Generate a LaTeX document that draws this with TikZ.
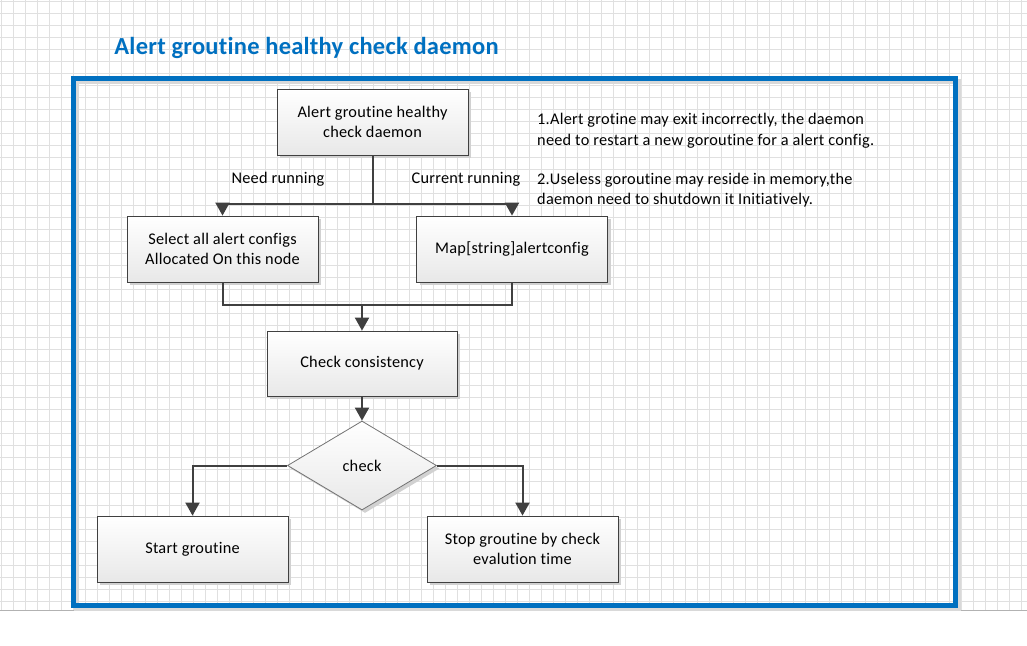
\documentclass[tikz,border=0pt]{standalone}
\usepackage{fontspec}
\setmainfont{Carlito}[LetterSpace=1.5,Ligatures=NoCommon]
\newfontfamily\titlefont{Carlito}[LetterSpace=1,Ligatures=NoCommon]
\usetikzlibrary{arrows.meta,shapes.geometric,shadows}
\definecolor{frameblue}{HTML}{0070C0}
\definecolor{linegray}{HTML}{404040}
\definecolor{gridgray}{HTML}{E0E0E0}
\begin{document}
\begin{tikzpicture}[x=1pt,y=-1pt,
  txt/.style={font=\fontsize{16.3}{20}\selectfont, text=black},
  box/.style={txt, draw=linegray, line width=0.8pt, top color=white, bottom color=black!9,
    minimum width=191pt, minimum height=66pt, align=center, inner sep=2pt,
    drop shadow={shadow xshift=3pt,shadow yshift=-3pt,fill=black!18,opacity=1}},
  decision/.style={txt, shape=diamond, draw=black!55, line width=0.8pt, top color=white, bottom color=black!9,
    minimum width=149pt, minimum height=89pt, inner sep=0pt,
    drop shadow={shadow xshift=3pt,shadow yshift=-3pt,fill=black!18,opacity=1}},
  conn/.style={draw=linegray, line width=2pt},
  arr/.style={conn, -{Triangle[length=13pt,width=14pt]}},
  lbl/.style={txt, inner sep=0pt}
]
\fill[white] (0,0) rectangle (1027,645);
\useasboundingbox (0,0) rectangle (1027,645);
% grid
\foreach \i in {0,...,85} \draw[gridgray, line width=1pt] ({1+12*\i},0) -- ({1+12*\i},610);
\foreach \j in {0,...,50} \draw[gridgray, line width=1pt] (0,{1+12*\j}) -- (1027,{1+12*\j});
\draw[black!30, line width=1pt] (0,610) -- (1027,610);
% title
\node[font=\titlefont\bfseries\fontsize{24.5}{28}\selectfont, text=frameblue, inner sep=0pt] (title) at (306.5,48) {Alert groutine healthy check daemon};
% frame
\draw[black!15, line width=5pt] (76.5,81.5) rectangle (958.5,608.5);
\draw[frameblue, line width=5pt] (73.5,78.5) rectangle (955.5,605.5);
% nodes
\node[box] (b1) at (372.5,122) {Alert groutine healthy\\check daemon};
\node[box] (b2) at (222.5,249) {Select all alert configs\\Allocated On this node};
\node[box] (b3) at (512,249) {Map[string]alertconfig};
\node[box, minimum width=190pt, minimum height=65pt] (b4) at (362,363.5) {Check consistency};
\node[decision] (d) at (362,465.5) {check};
\node[box] (b5) at (192.5,549) {Start groutine};
\node[box] (b6) at (522.5,549) {Stop groutine by check\\evalution time};
% labels
\node[lbl] (l1) at (278,179) {Need running};
\node[lbl] (l2) at (466,179) {Current running};
\node[lbl, anchor=west, align=left, font=\fontsize{16.3}{21}\selectfont] (n1) at (537,130.5) {1.Alert grotine may exit incorrectly, the daemon\\need to restart a new goroutine for a alert config.};
\node[lbl, anchor=west, align=left, font=\fontsize{16.3}{20.5}\selectfont] (n2) at (537,190) {2.Useless goroutine may reside in memory,the\\daemon need to shutdown it Initiatively.};
% connectors
\coordinate (j1) at (372.5,204);
\coordinate (j2) at (362,305);
\draw[conn] (b1.south) -- (j1);
\draw[arr] (j1) -| (b2.north);
\draw[arr] (j1) -| (b3.north);
\draw[conn] (b2.south) |- (j2);
\draw[conn] (b3.south) |- (j2);
\draw[arr] (j2) -- (b4.north);
\draw[arr] (b4.south) -- (d.north);
\draw[arr] (d.west) -| (b5.north);
\draw[arr] (d.east) -| (b6.north);
\end{tikzpicture}
\end{document}
